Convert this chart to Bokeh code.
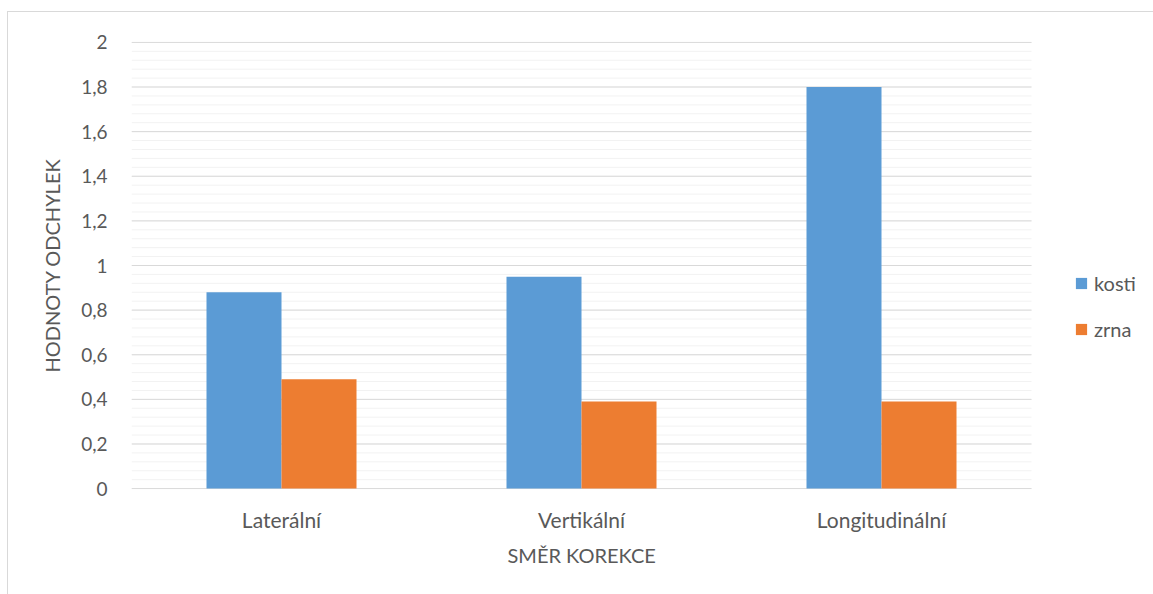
from bokeh.plotting import figure
from bokeh.models import (ColumnDataSource, Range1d, FixedTicker,
                          CustomJSTickFormatter, Legend, LegendItem, Title)
from bokeh.transform import dodge
from bokeh.embed import file_html
from bokeh.resources import INLINE

# Data
categories = ["Laterální", "Vertikální", "Longitudinální"]
kosti = [0.88, 0.95, 1.80]
zrna = [0.49, 0.39, 0.39]
series_names = ["kosti", "zrna"]
series_colors = ["#5B9BD5", "#ED7D31"]
y_ticks = [0, 0.2, 0.4, 0.6, 0.8, 1.0, 1.2, 1.4, 1.6, 1.8, 2.0]
y_minor_ticks = [i * 0.04 for i in range(51)]

FONT = "Lato"
TEXT = "#595959"

n_cat = len(categories)
centers = [i + 0.5 for i in range(n_cat)]
source = ColumnDataSource(data=dict(x=centers, kosti=kosti, zrna=zrna))

# The frame runs to the right edge so the legend sits inside it; the
# category slots occupy x in [0, n_cat] (300 px each).
p = figure(
    x_range=Range1d(0, n_cat * 1023 / 900),
    y_range=Range1d(-0.004, 2.004),
    width=1146, height=583,
    output_backend="svg", toolbar_location=None,
    min_border_left=123, min_border_right=0,
    min_border_top=29, min_border_bottom=106,
    background_fill_color="white", border_fill_color="white",
)
p.margin = (11, 0, 0, 7)
p.styles = {"border-left": "1px solid #D9D9D9", "border-top": "1px solid #D9D9D9"}
p.outline_line_color = None
p.xgrid.grid_line_color = None
p.ygrid.grid_line_color = None

# Gridlines limited to the category area
p.segment(x0=[0] * len(y_minor_ticks), x1=[n_cat] * len(y_minor_ticks),
          y0=y_minor_ticks, y1=y_minor_ticks, line_color="#F2F2F2", line_width=1)
p.segment(x0=[0] * len(y_ticks), x1=[n_cat] * len(y_ticks),
          y0=y_ticks, y1=y_ticks, line_color="#D9D9D9", line_width=1)

r1 = p.vbar(x=dodge("x", -0.125), top="kosti", width=0.25,
            source=source, fill_color=series_colors[0], line_color=None)
r2 = p.vbar(x=dodge("x", 0.125), top="zrna", width=0.25,
            source=source, fill_color=series_colors[1], line_color=None)

# Y axis
p.yaxis.ticker = FixedTicker(ticks=y_ticks)
p.yaxis.formatter = CustomJSTickFormatter(
    code="return tick.toFixed(1).replace(/\\.0$/, '').replace('.', ',');")
p.yaxis.axis_line_color = None
p.yaxis.major_tick_line_color = None
p.yaxis.minor_tick_line_color = None
p.yaxis.major_label_standoff = 18
p.yaxis.major_label_text_font = FONT
p.yaxis.major_label_text_font_size = "19px"
p.yaxis.major_label_text_color = TEXT
p.yaxis.axis_label = "HODNOTY ODCHYLEK"
p.yaxis.axis_label_text_font = FONT
p.yaxis.axis_label_text_font_size = "20px"
p.yaxis.axis_label_text_font_style = "normal"
p.yaxis.axis_label_text_color = TEXT
p.yaxis.axis_label_standoff = 14

# X axis (category names at slot centres)
p.xaxis.ticker = FixedTicker(ticks=centers)
p.xaxis.major_label_overrides = {c: name for c, name in zip(centers, categories)}
p.xaxis.axis_line_color = None
p.xaxis.major_tick_line_color = None
p.xaxis.minor_tick_line_color = None
p.xaxis.major_label_standoff = 11
p.xaxis.major_label_text_font = FONT
p.xaxis.major_label_text_font_size = "21px"
p.xaxis.major_label_text_color = TEXT

# X axis title, centred under the category area
x_title = Title(text="SMĚR KOREKCE", align="left", offset=376, standoff=12,
                text_font=FONT, text_font_size="20px", text_font_style="normal",
                text_color=TEXT)
p.add_layout(x_title, "below")

# Legend
legend = Legend(
    items=[LegendItem(label=series_names[0], renderers=[r1]),
           LegendItem(label=series_names[1], renderers=[r2])],
    location=(943, 148),
    orientation="vertical",
    padding=0, margin=0, spacing=22,
    glyph_width=14, glyph_height=14, label_height=20,
    label_standoff=6,
    label_text_font=FONT, label_text_font_size="20px", label_text_color=TEXT,
    border_line_color=None, background_fill_alpha=0,
)
p.add_layout(legend, "center")

open("out.html", "w").write(file_html(p, INLINE))
